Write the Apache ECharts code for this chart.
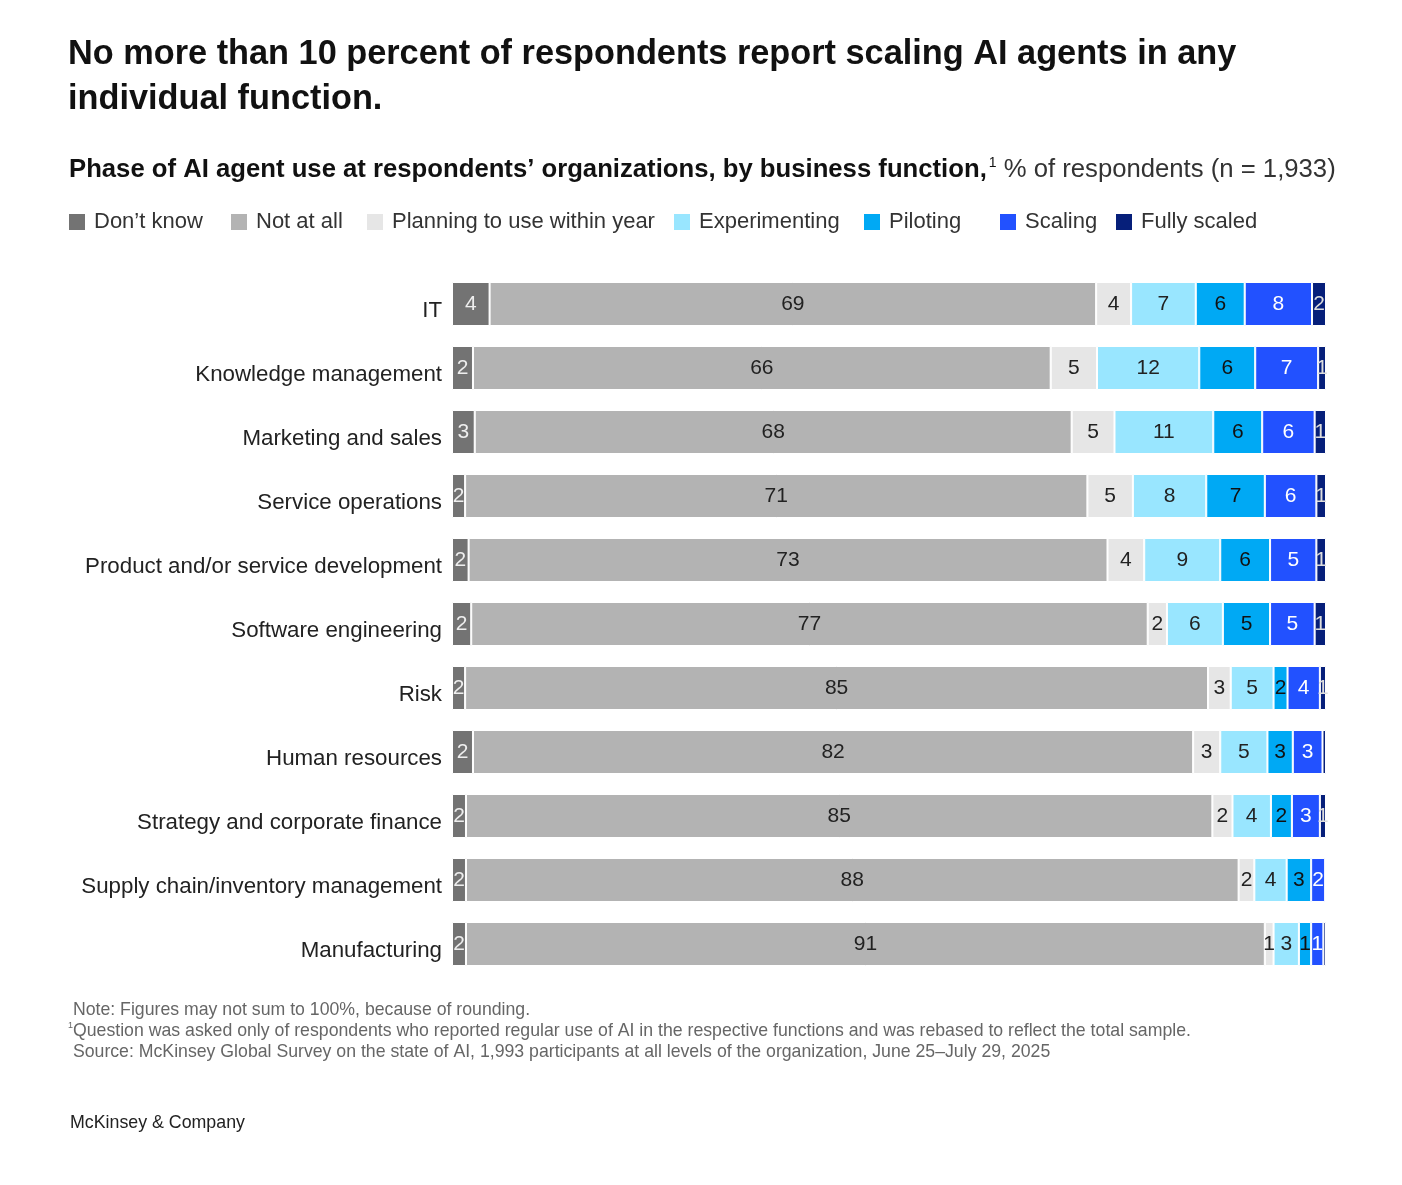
<!DOCTYPE html>
<html>
<head>
<meta charset="utf-8">
<script src="https://cdn.jsdelivr.net/npm/echarts@6/dist/echarts.min.js"></script>
<style>
  html, body { margin: 0; padding: 0; background: #fff; }
  #chart { width: 1402px; height: 1185px; }
</style>
</head>
<body>
<div id="chart"></div>
<script>
let $ = a => document.querySelector(a)

// business functions, top to bottom
const categories = [
    'IT',
    'Knowledge management',
    'Marketing and sales',
    'Service operations',
    'Product and/or service development',
    'Software engineering',
    'Risk',
    'Human resources',
    'Strategy and corporate finance',
    'Supply chain/inventory management',
    'Manufacturing'
]

const phaseNames = ['Don’t know', 'Not at all', 'Planning to use within year', 'Experimenting', 'Piloting', 'Scaling', 'Fully scaled']

// % of respondents (unrounded estimates, labels show the rounded value)
const dontKnow      = [4.3, 2.4, 2.6, 1.5, 1.9, 2.2, 1.5, 2.4, 1.6, 1.6, 1.6]
const notAtAll      = [69.4, 66.1, 68.3, 71.2, 73.1, 77.4, 85.0, 82.4, 85.4, 88.4, 91.4]
const planning      = [4.0, 5.3, 4.9, 5.2, 4.2, 2.2, 2.6, 3.1, 2.3, 1.8, 1.0]
const experimenting = [7.4, 11.7, 11.3, 8.4, 8.7, 6.4, 4.9, 5.4, 4.4, 3.7, 2.9]
const piloting      = [5.6, 6.4, 5.6, 6.7, 5.7, 5.4, 1.6, 2.9, 2.4, 2.8, 1.4]
const scaling       = [7.7, 7.2, 6.0, 5.9, 5.3, 5.1, 3.7, 3.4, 3.2, 1.6, 1.4]
const fullyScaled   = [1.6, 0.9, 1.3, 1.1, 1.1, 1.3, 0.7, 0.4, 0.7, 0.1, 0.3]

const seriesValues = [dontKnow, notAtAll, planning, experimenting, piloting, scaling, fullyScaled]

const colors = ['#737373', '#b3b3b3', '#e6e6e6', '#99e6ff', '#00a9f4', '#2251ff', '#061f7a']
const labelColors = ['#eeeeee', '#222222', '#222222', '#222222', '#111111', '#ffffff', '#dddddd']
const legendLeft = [67, 229, 365, 672, 862, 998, 1114]

const font = 'Liberation Sans, Arial, sans-serif'

let chart = echarts.init($('#chart'))

chart.setOption({
    backgroundColor: '#fff',
    title: [
        {
            text: 'No more than 10 percent of respondents report scaling AI agents in any\nindividual function.',
            left: 68,
            top: 32,
            padding: 0,
            textStyle: {
                fontFamily: font,
                fontSize: 34.3,
                fontWeight: 'bold',
                lineHeight: 45,
                color: '#111'
            }
        },
        {
            text: '{b|Phase of AI agent use at respondents’ organizations, by business function,}{s|1}{n| % of respondents (n = 1,933)}',
            left: 69,
            top: 156,
            padding: 0,
            textStyle: {
                rich: {
                    b: { fontFamily: font, fontSize: 25.7, fontWeight: 'bold', color: '#111', lineHeight: 28 },
                    s: { fontFamily: font, fontSize: 14, fontWeight: 'normal', color: '#111', verticalAlign: 'top', lineHeight: 28, padding: [0, 0, 0, 2] },
                    n: { fontFamily: font, fontSize: 25.7, fontWeight: 'normal', color: '#333', lineHeight: 28 }
                }
            }
        },
        {
            text: ' Note: Figures may not sum to 100%, because of rounding.\n{s|1}Question was asked only of respondents who reported regular use of AI in the respective functions and was rebased to reflect the total sample.\n Source: McKinsey Global Survey on the state of AI, 1,993 participants at all levels of the organization, June 25–July 29, 2025',
            left: 68,
            top: 1000,
            padding: 0,
            textStyle: {
                fontFamily: font,
                fontSize: 17.7,
                fontWeight: 'normal',
                color: '#666',
                lineHeight: 21,
                rich: {
                    s: { fontFamily: font, fontSize: 9, fontWeight: 'normal', color: '#666', verticalAlign: 'top', lineHeight: 21 }
                }
            }
        },
        {
            text: 'McKinsey & Company',
            left: 70,
            top: 1114,
            padding: 0,
            textStyle: {
                fontFamily: font,
                fontSize: 17.8,
                fontWeight: 'normal',
                color: '#222'
            }
        }
    ],
    // one legend per phase so each sits where it does in the original
    legend: phaseNames.map((name, i) => ({
        data: [name],
        left: legendLeft[i],
        top: 211,
        padding: 0,
        icon: 'rect',
        itemWidth: 18,
        itemHeight: 18,
        selectedMode: false,
        textStyle: {
            fontFamily: font,
            fontSize: 22,
            color: '#333',
            padding: [0, 0, 0, 3]
        }
    })),
    grid: {
        left: 452,
        right: 76,
        top: 272,
        bottom: 209
    },
    xAxis: {
        type: 'value',
        min: 0,
        max: 100,
        show: false
    },
    yAxis: {
        type: 'category',
        inverse: true,
        data: categories,
        axisLine: { show: false },
        axisTick: { show: false },
        axisLabel: {
            margin: 10,
            fontFamily: font,
            fontSize: 22.3,
            color: '#222',
            verticalAlign: 'top',
            lineHeight: 13
        }
    },
    series: seriesValues.map((values, i) => ({
        name: phaseNames[i],
        type: 'bar',
        stack: 'total',
        barWidth: 44,
        data: values,
        itemStyle: {
            color: colors[i],
            borderColor: '#fff',
            borderWidth: 1
        },
        label: {
            show: true,
            position: 'inside',
            fontFamily: font,
            fontSize: 21,
            color: labelColors[i],
            formatter: p => {
                let v = Math.round(p.value)
                return v > 0 ? String(v) : ''
            }
        },
        emphasis: { disabled: true }
    }))
})
</script>
</body>
</html>
